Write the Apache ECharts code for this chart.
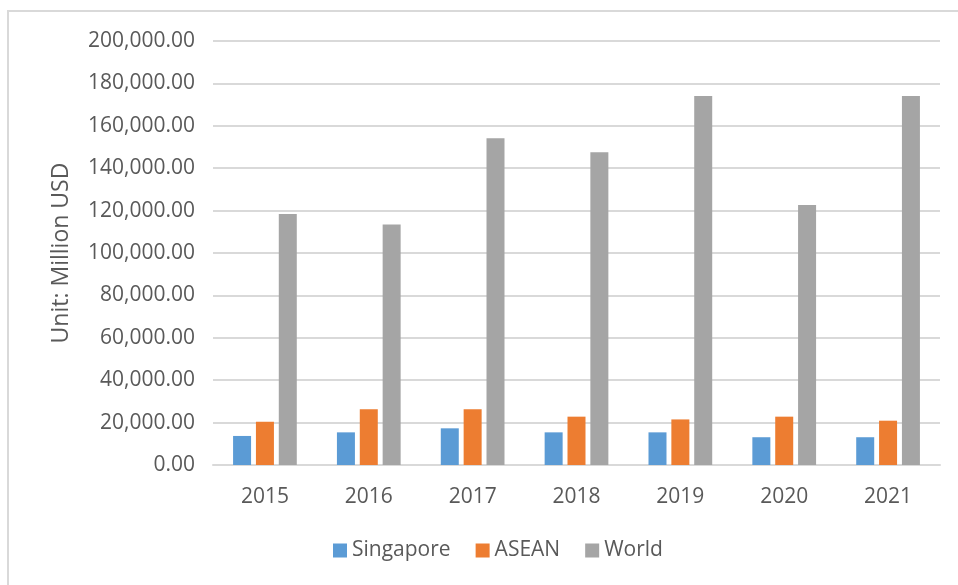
<!DOCTYPE html>
<html>
<head>
<meta charset="utf-8">
<script src="https://cdn.jsdelivr.net/npm/echarts@6/dist/echarts.min.js"></script>
<style>
  html, body { margin: 0; padding: 0; background: #fff; }
  #chart { width: 958px; height: 585px; }
</style>
</head>
<body>
<div id="chart"></div>
<script>
// values, million USD
const years = ['2015', '2016', '2017', '2018', '2019', '2020', '2021']
const singapore = [13700, 15400, 17300, 15400, 15400, 13100, 13100]
const asean = [20400, 26300, 26300, 22800, 21500, 22800, 20900]
const world = [118400, 113500, 154100, 147500, 174100, 122600, 174100]

const textColor = '#595959'
const font = '"Open Sans", "Noto Sans", sans-serif'

function fmt(v) {
  // 20000 -> 20,000.00
  const s = String(Math.round(v)).replace(/\B(?=(\d{3})+(?!\d))/g, ',')
  return s + '.00'
}

const chart = echarts.init(document.getElementById('chart'))

const option = {
  animation: false,
  textStyle: { fontFamily: font },
  graphic: [
    {
      type: 'polyline',
      shape: { points: [[8, 585], [8, 11], [958, 11]] },
      style: { stroke: '#d9d9d9', lineWidth: 2, fill: null },
      silent: true
    }
  ],
  grid: {
    left: 213,
    right: 18,
    top: 41,
    bottom: 120
  },
  legend: {
    data: ['Singapore', 'ASEAN', 'World'],
    bottom: 19,
    left: 328,
    itemWidth: 14,
    itemHeight: 14,
    itemGap: 25,
    icon: 'rect',
    textStyle: { color: textColor, fontSize: 21, fontFamily: font }
  },
  xAxis: {
    type: 'category',
    data: years,
    axisLine: { lineStyle: { color: '#d9d9d9', width: 2 } },
    axisTick: { show: false },
    axisLabel: { color: textColor, fontSize: 21, margin: 22, fontFamily: font }
  },
  yAxis: {
    type: 'value',
    min: 0,
    max: 200000,
    interval: 20000,
    name: 'Unit: Million USD',
    nameLocation: 'middle',
    nameGap: 140,
    nameTextStyle: { color: textColor, fontSize: 23, fontFamily: font },
    axisLine: { show: false },
    axisTick: { show: false },
    axisLabel: { color: textColor, fontSize: 21, margin: 18, fontFamily: font, formatter: fmt },
    splitLine: { lineStyle: { color: '#d9d9d9', width: 2 } }
  },
  series: [
    {
      name: 'Singapore',
      type: 'bar',
      data: singapore,
      barWidth: 18,
      barGap: '27%',
      itemStyle: { color: '#5B9BD5' }
    },
    {
      name: 'ASEAN',
      type: 'bar',
      data: asean,
      barWidth: 18,
      barGap: '27%',
      itemStyle: { color: '#ED7D31' }
    },
    {
      name: 'World',
      type: 'bar',
      data: world,
      barWidth: 18,
      barGap: '27%',
      itemStyle: { color: '#A5A5A5' }
    }
  ]
}

chart.setOption(option)
</script>
</body>
</html>
